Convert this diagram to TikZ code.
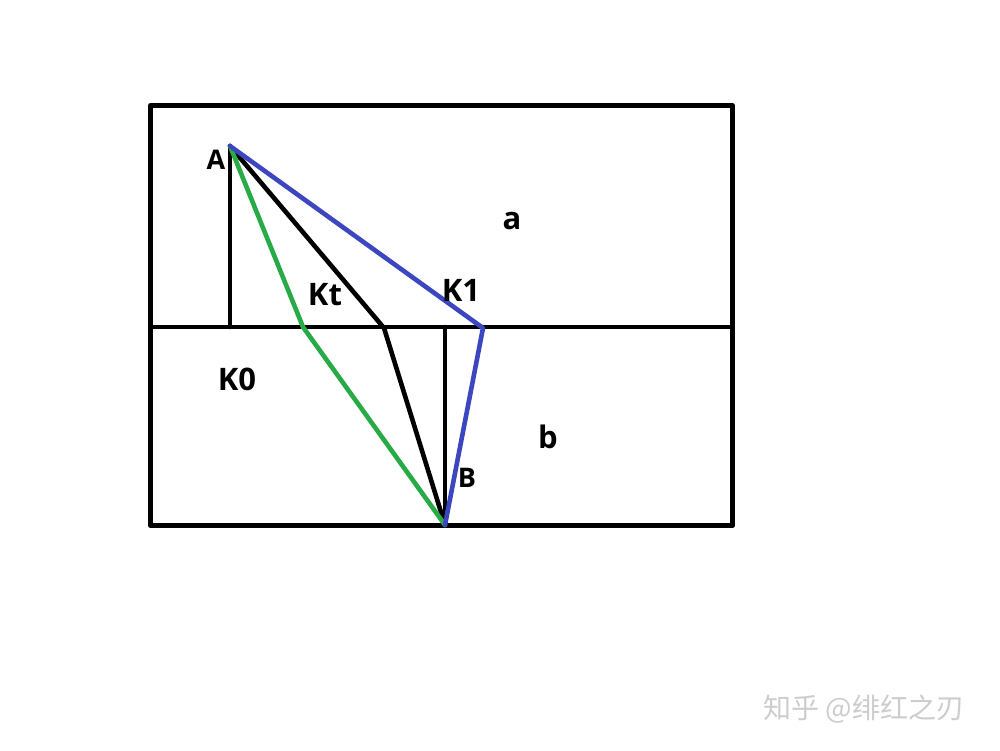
\documentclass[tikz,border=0pt]{standalone}
\usepackage{fontspec}
\setmainfont{Open Sans}
\newfontfamily\cjk{Noto Sans CJK SC}
\begin{document}
\begin{tikzpicture}[x=1pt,y=-1pt,
  edge/.style={line width=4.6pt,line join=round,line cap=round},
  lbl/.style={font=\bfseries\fontsize{31}{31}\selectfont,inner sep=0pt},
  slbl/.style={font=\bfseries\fontsize{27}{27}\selectfont,inner sep=0pt}]
\useasboundingbox[fill=white] (0,0) rectangle (1000,750);
\coordinate (TL) at (150.5,105.5);
\coordinate (BR) at (732.5,525.5);
\coordinate (ML) at (150.5,327);
\coordinate (MR) at (732.5,327);
\coordinate (A) at (230,146);
\coordinate (K0) at (230,327);
\coordinate (G) at (303,327);
\coordinate (Kt) at (384,328);
\coordinate (K1) at (483,328);
\coordinate (Bt) at (445,327);
\coordinate (B) at (445,525);
\draw[edge,line width=5pt,line cap=butt] (TL) rectangle (BR);
\draw[edge] (ML) -- (MR);
\draw[edge] (A) -- (K0);
\draw[edge] (Bt) -- (B);
\draw[edge,black] (A) -- (Kt) -- (B);
\draw[edge,color={rgb,255:red,40;green,170;blue,70}] (A) -- (G) -- (B);
\draw[edge,color={rgb,255:red,60;green,70;blue,190}] (A) -- (K1) -- (B);
\node[slbl] (lA) at (216,160) {A};
\node[lbl] (lKt) at (325,295) {Kt};
\node[lbl] (lK1) at (461,290) {K1};
\node[lbl] (la) at (512,221) {a};
\node[lbl] (lb) at (548,437) {b};
\node[slbl] (lB) at (467,478) {B};
\node[lbl] (lK0) at (237,379) {K0};
\node[font=\cjk\fontsize{28}{28}\selectfont,text={rgb,255:red,205;green,205;blue,205},inner sep=0pt] (wm) at (864,709) {知乎 @绯红之刃};
\end{tikzpicture}
\end{document}
